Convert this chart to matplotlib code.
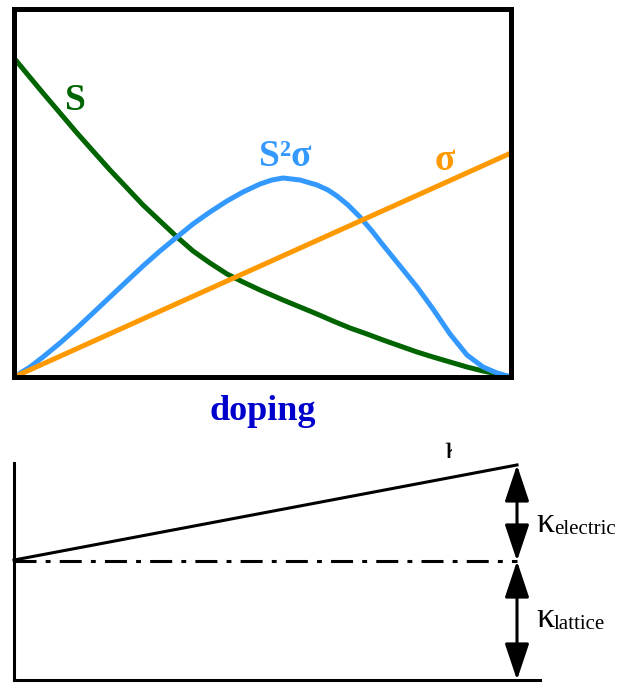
import matplotlib.pyplot as plt
from matplotlib.transforms import Bbox, TransformedBbox, Affine2D
from matplotlib.textpath import TextPath
from matplotlib.patches import PathPatch
from matplotlib.font_manager import FontProperties

# top panel, arbitrary units (doping 0..497, value 0..368)
s_doping = [0, 14, 29, 46, 63, 79, 96, 113, 129, 146, 163, 179, 196, 213, 229, 246,
            269, 286, 303, 319, 336, 353, 369, 386, 403, 419, 436, 453, 469, 483, 497]
seebeck = [319, 302, 284, 264, 244, 226, 207, 189, 172, 156, 140, 126, 114, 103, 95, 87,
           77, 70, 63, 56, 49, 43, 37, 31, 25, 20, 15, 10, 6, 3, 0]

pf_doping = [0, 16, 29, 46, 63, 79, 96, 113, 129, 146, 163, 179, 196, 213, 229, 246, 258,
             269, 286, 303, 314, 323, 334, 346, 358, 369, 386, 403, 419, 436, 453, 469, 483, 497]
power_factor = [0, 10, 20, 34, 49, 64, 80, 96, 111, 126, 140, 153, 165, 176, 185, 193, 197,
                199, 197, 192, 187, 181, 172, 160, 146, 132, 111, 90, 68, 43, 22, 10, 4, 0]

sigma_doping = [0, 497]
sigma = [0, 224]

# bottom panel: thermal conductivity sketch (lattice part = 1)
kappa_x = [0.0, 1.0]
kappa_lattice = [1.0, 1.0]
kappa_total = [1.008, 1.807]

W, H = 619, 685
fig = plt.figure(figsize=(W / 100, H / 100), dpi=100)
serif = 'Liberation Serif'

# ---- top panel
ax = fig.add_axes([14 / W, (H - 377) / H, 497 / W, 368 / H])
ax.plot(s_doping, seebeck, color='#006400', lw=3.6, solid_joinstyle='round')
ax.plot(pf_doping, power_factor, color='#3399ff', lw=3.6, solid_joinstyle='round')
ax.plot(sigma_doping, sigma, color='#ff9900', lw=3.6)
ax.set_xlim(0, 497)
ax.set_ylim(0, 368)
ax.set_xticks([])
ax.set_yticks([])
for sp in ax.spines.values():
    sp.set_linewidth(3.6)
    sp.set_color('black')

ax.text(61, 277, 'S', color='#006400', fontsize=27, fontweight='bold',
        family=serif, ha='center', va='center')
ax.text(271, 221, 'S²σ', color='#3399ff', fontsize=27, fontweight='bold',
        family=serif, ha='center', va='center')
ax.text(431, 217, 'σ', color='#ff9900', fontsize=27, fontweight='bold',
        family=serif, ha='center', va='center')
fig.text(263 / W, 1 - 411 / H, 'doping', color='#0000cc', fontsize=26,
         fontweight='bold', family=serif, ha='center', va='center')

# ---- bottom panel
bx = fig.add_axes([0, 0, 1, (H - 443) / H])
bx.set_xlim(-14 / 503, 605 / 503)
bx.set_ylim(-5 / 119, 237 / 119)
bx.axis('off')

bx.plot([0, 0], [0, 1.824], color='black', lw=2.2)
bx.plot([0, 1.046], [0, 0], color='black', lw=2.2)
bx.plot(kappa_x, kappa_total, color='black', lw=2.2)
bx.plot(kappa_x, kappa_lattice, color='black', lw=2.2,
        dashes=(7.2, 3, 1.6, 3))

arrow = dict(arrowstyle='<|-|>,head_length=1.5,head_width=0.5', color='black',
             lw=2.2, mutation_scale=15, shrinkA=0, shrinkB=0)
bx.annotate('', xy=(kappa_x[1], kappa_total[1]), xytext=(kappa_x[1], kappa_lattice[1]),
            arrowprops=arrow)
bx.annotate('', xy=(kappa_x[1], kappa_lattice[1]), xytext=(kappa_x[1], 0),
            arrowprops=arrow)

bx.text(1.038, 1.244, 'κ', fontsize=26, family=serif, va='baseline', ha='left')
bx.text(1.073, 1.227, 'electric', fontsize=15, family=serif, va='baseline', ha='left')
bx.text(1.038, 0.445, 'κ', fontsize=26, family=serif, va='baseline', ha='left')
bx.text(1.073, 0.43, 'lattice', fontsize=15, family=serif, va='baseline', ha='left')

# partly hidden kappa label at the top of the sloped line
kp = TextPath((0, 0), 'κ', size=24, prop=FontProperties(family=serif))
x0, y0 = bx.transData.transform((0.857, 1.866))
patch = PathPatch(kp, fc='black', ec='none',
                  transform=Affine2D().scale(fig.dpi / 72).translate(x0, y0))
bx.add_artist(patch)
patch.set_clip_box(TransformedBbox(Bbox([[0.85, 1.7], [0.871, 2.0]]), bx.transData))

fig.savefig('out.png', dpi=100)
